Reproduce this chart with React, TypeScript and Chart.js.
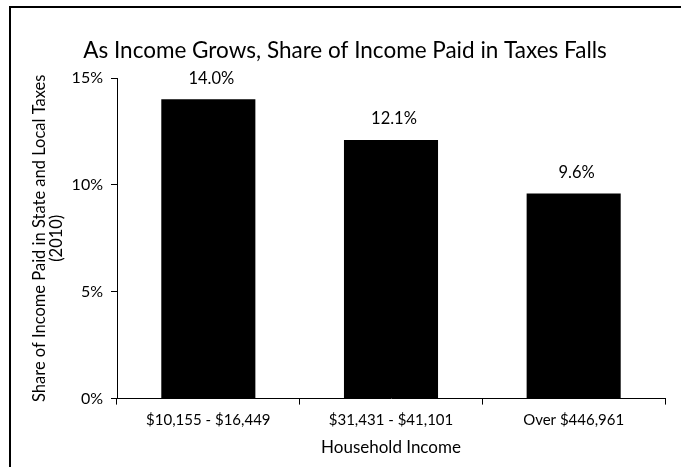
import React, { useEffect, useRef } from "react";
import { Chart, registerables } from "chart.js";

Chart.register(...registerables);

const categories = ["$10,155 - $16,449", "$31,431 - $41,101", "Over $446,961"];
const shares = [14.0, 12.1, 9.6];
const yTicks = [0, 5, 10, 15];
const titleText = "As Income Grows, Share of Income Paid in Taxes Falls";
const yTitle = ["Share of Income Paid in State and Local Taxes", "(2010)"];
const xTitle = "Household Income";

const FONT = "Lato, 'Open Sans', sans-serif";

const labelPlugin = {
  id: "barLabels",
  afterDatasetsDraw(chart: any) {
    const ctx = chart.ctx;
    const meta = chart.getDatasetMeta(0);
    ctx.save();
    ctx.fillStyle = "#000";
    ctx.font = `16.5px ${FONT}`;
    ctx.textAlign = "center";
    ctx.textBaseline = "middle";
    meta.data.forEach((bar: any, i: number) => {
      ctx.fillText(shares[i].toFixed(1) + "%", bar.x + 3, bar.y - 21);
    });
    ctx.restore();
  },
};

const titlePlugin = {
  id: "leftTitle",
  afterDraw(chart: any) {
    const ctx = chart.ctx;
    ctx.save();
    ctx.fillStyle = "#000";
    ctx.font = `22.5px ${FONT}`;
    ctx.textAlign = "center";
    ctx.textBaseline = "middle";
    ctx.fillText(titleText, 345, 51);
    ctx.restore();
  },
};

export default function App() {
  const ref = useRef<HTMLCanvasElement | null>(null);
  useEffect(() => {
    if (!ref.current) return;
    const chart = new Chart(ref.current, {
      type: "bar",
      data: {
        labels: categories,
        datasets: [
          {
            data: shares,
            backgroundColor: "#000",
            borderWidth: 0,
            barPercentage: 0.515,
            categoryPercentage: 1,
          },
        ],
      },
      plugins: [labelPlugin, titlePlugin],
      options: {
        animation: false,
        responsive: true,
        maintainAspectRatio: false,
        layout: { padding: { top: 78, left: 27, right: 16, bottom: 5 } },
        plugins: { legend: { display: false }, tooltip: { enabled: false }, title: { display: false } },
        scales: {
          x: {
            grid: { display: true, drawOnChartArea: false, color: "#000", tickLength: 6, offset: true },
            border: { display: true, color: "#000", width: 1 },
            ticks: { color: "#000", font: { family: FONT, size: 15 }, padding: 6.5, maxRotation: 0 },
            title: {
              display: true,
              text: xTitle,
              color: "#000",
              font: { family: FONT, size: 17 },
              padding: { top: 2, bottom: 4 },
            },
          },
          y: {
            min: 0,
            max: 15,
            afterBuildTicks(axis: any) {
              axis.ticks = yTicks.map((v) => ({ value: v }));
            },
            afterFit(axis: any) {
              axis.width = 90;
            },
            grid: { display: true, drawOnChartArea: false, color: "#000", tickLength: 6 },
            border: { display: true, color: "#000", width: 1 },
            ticks: { color: "#000", font: { family: FONT, size: 16 }, padding: 8, callback: (v: any) => v + "%" },
            title: {
              display: true,
              text: yTitle,
              color: "#000",
              font: { family: FONT, size: 16.5, lineHeight: 1.0 },
              padding: { top: 4.5, bottom: 0 },
            },
          },
        },
      },
    });
    return () => chart.destroy();
  }, []);
  return (
    <div style={{ position: "fixed", left: 0, top: 0, width: 681, height: 467, overflow: "hidden", background: "#fff" }}>
      <div
        style={{
          position: "absolute",
          left: 9,
          top: 6,
          width: 700,
          height: 500,
          borderLeft: "2px solid #000",
          borderTop: "2px solid #000",
          boxSizing: "border-box",
        }}
      />
      <div style={{ position: "absolute", left: 0, top: 0, width: 681, height: 467 }}>
        <canvas ref={ref} />
      </div>
    </div>
  );
}
